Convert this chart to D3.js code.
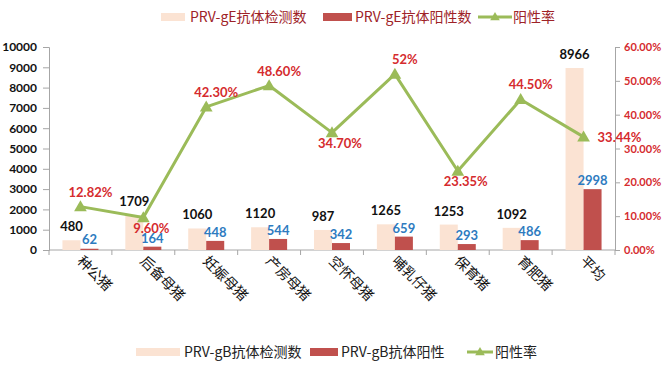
<!DOCTYPE html>
<html><head><meta charset="utf-8">
<script src="https://cdn.jsdelivr.net/npm/d3@7/dist/d3.min.js"></script>
<style>
html,body{margin:0;padding:0;background:#fff;}
svg{display:block;}
</style></head>
<body>
<svg id="c" width="670" height="366"></svg>
<script>
const categories = ["种公猪","后备母猪","妊娠母猪","产房母猪","空怀母猪","哺乳仔猪","保育猪","育肥猪","平均"];
const tested = [480,1709,1060,1120,987,1265,1253,1092,8966];
const positive = [62,164,448,544,342,659,293,486,2998];
const rate = [0.1282,0.096,0.423,0.486,0.347,0.52,0.2335,0.445,0.3344];
const rateLabels = ["12.82%","9.60%","42.30%","48.60%","34.70%","52%","23.35%","44.50%","33.44%"];
const rateLabelSide = ["above","below","above","above","below","above","below","above","right"];
const leftTicks = [0,1000,2000,3000,4000,5000,6000,7000,8000,9000,10000];
const rightTicks = [0,0.1,0.2,0.3,0.4,0.5,0.6];
const topLegend = ["PRV-gE抗体检测数","PRV-gE抗体阳性数","阳性率"];
const bottomLegend = ["PRV-gB抗体检测数","PRV-gB抗体阳性","阳性率"];

const C = {light:"#FBE3D3", dark:"#C0504D", green:"#9BBB59", blue:"#2E7BBF", red:"#D52B2E", axis:"#A6A6A6"};
const NUM = "Lato, 'Liberation Sans', sans-serif";
const CJK = "'Noto Sans CJK SC', 'Noto Sans', sans-serif";

const svg = d3.select("#c");
const L = 49, R = 615, T = 47, B = 250;

const x = d3.scaleBand().domain(categories).range([L, R]).padding(0);
const inner = d3.scaleBand().domain(["t","p"]).range([0, 36]);
const yL = d3.scaleLinear().domain([0, 10000]).range([B, T]);
const yR = d3.scaleLinear().domain([0, 0.6]).range([B, T]);

// left axis
const gL = svg.append("g").attr("transform", `translate(${L},0)`)
  .call(d3.axisLeft(yL).tickValues(leftTicks).tickSize(6).tickPadding(6).tickFormat(d3.format("d")));
gL.selectAll("path,line").attr("stroke", C.axis);
gL.selectAll("text").attr("font-family", NUM).attr("font-weight", "bold").attr("font-size", 12).attr("fill", "#111");

// right axis
const gR = svg.append("g").attr("transform", `translate(${R},0)`)
  .call(d3.axisRight(yR).tickValues(rightTicks).tickSize(5).tickPadding(4).tickFormat(d3.format(".2%")));
gR.selectAll("path,line").attr("stroke", C.axis);
gR.selectAll("text").attr("font-family", NUM).attr("font-weight", "bold").attr("font-size", 11).attr("fill", C.red);

// x axis
const bandEdges = categories.map(c => x(c)).concat([R]);
const gX = svg.append("g");
gX.append("line").attr("x1", L).attr("x2", R).attr("y1", B).attr("y2", B).attr("stroke", C.axis);
gX.selectAll("line.t").data(bandEdges).join("line").attr("class","t")
  .attr("x1", d => d).attr("x2", d => d).attr("y1", B).attr("y2", B + 5).attr("stroke", C.axis);
gX.selectAll("text").data(categories).join("text")
  .attr("transform", d => `translate(${x(d) + x.bandwidth()/2 - 4},${B + 12}) rotate(45)`)
  .attr("font-family", CJK).attr("font-size", 14).attr("fill", "#111")
  .text(d => d);

// bars
const bars = svg.append("g");
bars.selectAll("rect.t").data(categories).join("rect").attr("class","t")
  .attr("x", (d,i) => x(d) + x.bandwidth()/2 - 18 + inner("t"))
  .attr("width", inner.bandwidth())
  .attr("y", (d,i) => yL(tested[i]))
  .attr("height", (d,i) => B - yL(tested[i]))
  .attr("fill", C.light);
bars.selectAll("rect.p").data(categories).join("rect").attr("class","p")
  .attr("x", (d,i) => x(d) + x.bandwidth()/2 - 18 + inner("p"))
  .attr("width", inner.bandwidth())
  .attr("y", (d,i) => yL(positive[i]))
  .attr("height", (d,i) => B - yL(positive[i]))
  .attr("fill", C.dark);

// bar labels
svg.append("g").selectAll("text").data(categories).join("text")
  .attr("x", d => x(d) + x.bandwidth()/2 - 18 + inner("t") + inner.bandwidth()/2)
  .attr("y", (d,i) => yL(tested[i]) - 9)
  .attr("text-anchor", "middle")
  .attr("font-family", NUM).attr("font-weight", "bold").attr("font-size", 13).attr("fill", "#111")
  .text((d,i) => tested[i]);
svg.append("g").selectAll("text").data(categories).join("text")
  .attr("x", d => x(d) + x.bandwidth()/2 - 18 + inner("p") + inner.bandwidth()/2)
  .attr("y", (d,i) => Math.min(yL(positive[i]) - 4, 244))
  .attr("text-anchor", "middle")
  .attr("font-family", NUM).attr("font-weight", "bold").attr("font-size", 13).attr("fill", C.blue)
  .text((d,i) => positive[i]);

// line
const cx = d => x(d) + x.bandwidth()/2;
const line = d3.line().x((d,i) => cx(categories[i])).y(d => yR(d));
svg.append("path").datum(rate).attr("d", line)
  .attr("fill", "none").attr("stroke", C.green).attr("stroke-width", 3).attr("stroke-linejoin", "round");
const tri = d3.symbol().type(d3.symbolTriangle).size(70);
svg.append("g").selectAll("path").data(rate).join("path")
  .attr("d", tri)
  .attr("transform", (d,i) => `translate(${cx(categories[i])},${yR(d) + 1})`)
  .attr("fill", C.green);

// rate labels
svg.append("g").selectAll("text").data(rate).join("text")
  .attr("x", (d,i) => {
    const s = rateLabelSide[i], px = cx(categories[i]);
    return s === "right" ? px + 14 : s === "above" ? px + 10 : px + 8;
  })
  .attr("y", (d,i) => {
    const s = rateLabelSide[i], py = yR(d);
    return s === "right" ? py + 5 : s === "above" ? py - 10 : py + 15;
  })
  .attr("text-anchor", (d,i) => rateLabelSide[i] === "right" ? "start" : "middle")
  .attr("font-family", NUM).attr("font-weight", "bold").attr("font-size", 13).attr("fill", C.red)
  .text((d,i) => rateLabels[i]);

// legends
function legend(items, y, textColor, layout) {
  const g = svg.append("g");
  items.forEach((t, i) => {
    const l = layout[i];
    if (i < 2) {
      g.append("rect").attr("x", l.sx).attr("y", y - 4).attr("width", l.sw).attr("height", 8)
        .attr("fill", i === 0 ? C.light : C.dark);
    } else {
      g.append("line").attr("x1", l.sx).attr("x2", l.sx + l.sw).attr("y1", y).attr("y2", y)
        .attr("stroke", C.green).attr("stroke-width", 3);
      g.append("path").attr("d", d3.symbol().type(d3.symbolTriangle).size(40))
        .attr("transform", `translate(${l.sx + l.sw/2},${y + 0.5})`).attr("fill", C.green);
    }
    g.append("text").attr("x", l.tx).attr("y", y + 5)
      .attr("font-family", CJK).attr("font-size", 14).attr("fill", textColor).text(t);
  });
}
legend(topLegend, 17, "#9E2227", [{sx:161, sw:24, tx:190}, {sx:323, sw:29, tx:355}, {sx:478, sw:34, tx:513}]);
legend(bottomLegend, 352, "#222", [{sx:136, sw:44, tx:184}, {sx:310, sw:28, tx:341}, {sx:467, sw:26, tx:495}]);
</script>
</body></html>
